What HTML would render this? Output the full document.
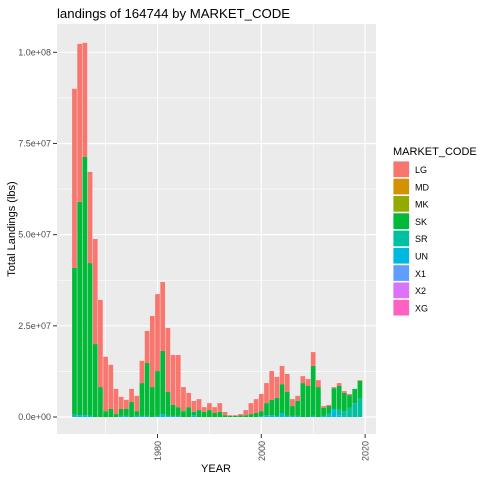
<!DOCTYPE html>
<html><head><meta charset="utf-8"><style>
body{margin:0;background:#fff;}
svg text{font-family:"Liberation Sans",Arial,sans-serif;}
</style></head><body>
<svg id="chart" width="480" height="480" xmlns="http://www.w3.org/2000/svg">
<rect width="480" height="480" fill="#fff"/>
<text x="57" y="18" font-size="13.2" fill="#000">landings of 164744 by MARKET_CODE</text>
<rect x="57" y="24" width="319" height="410" fill="#EBEBEB"/>
<g id="grid"></g>
<g id="bars"></g>
<g id="axes"></g>
<text transform="translate(15,229) rotate(-90)" text-anchor="middle" font-size="11" fill="#000">Total Landings (lbs)</text>
<text x="216" y="472" text-anchor="middle" font-size="11" fill="#000">YEAR</text>
<g id="legend"></g>
</svg>
<script>
const years = [];
for (let y = 1964; y <= 2019; y++) years.push(y);
const lgTotal = [90,102.3,102.6,67.2,48.8,32.1,16.5,14.3,7.7,5.5,4.7,7.7,5.8,15.4,23.6,27.7,33.7,37,24.4,17,17,8.2,6.6,4.4,4.9,2.7,3.8,2.7,3.8,1.4,0.5,0.5,0.8,1.9,3.8,4.9,6.3,9.3,12.6,11,14,11.8,4.9,5.8,11.2,10.4,17.8,10.1,3,3.3,8.2,9.3,7.1,6.3,7.7,10.1];
const skTop = [40.9,59,71.3,42.2,20,8.2,1.6,2.2,0.8,2.2,2.2,4.1,1.6,9.3,14.8,8.2,12.6,18.1,6.9,3.3,2.7,1.6,2.7,1.4,1.9,1.4,1.9,1.1,1.4,0.5,0.3,0.3,0.4,0.5,0.8,1.1,1.6,3.8,4.7,5.2,9,6.9,3,4.4,9.3,8.5,14,8.2,2.5,3,7.9,8.5,6.6,6,7.7,9.9];
const srTop = [0,0,0,0,0,0,0,0,0,0,0,0,0,0,0,0,0,0,0,0,0,0,0,0,0,0,0,0,0,0,0,0,0,0,0,0,0,0,0,0,0,0,0,0,0,0,0,0,0,1.1,2.2,2.0,1.6,2.5,3.8,5.2];
const unVal = [0.6,0.5,0.5,0.4,0,0,0,0,0,0.3,0.3,0,0.3,0.3,0.3,0,0.3,0.8,0.3,0.3,0.3,0,0,0.5,0,0,0,0,0,0,0,0,0,0,0,0,0.2,0.5,0.5,0.3,1.1,0.3,0.3,0.3,0,0,0.3,0,0.3,0.3,2.2,0.5,0.3,0,0,0];
const yTicks = [0,25,50,75,100];
const yTickLabels = ["0.0e+00","2.5e+07","5.0e+07","7.5e+07","1.0e+08"];
const xTicks = [1980,2000,2020];
const legendCodes = ["LG","MD","MK","SK","SR","UN","X1","X2","XG"];
const legendColors = ["#F8766D","#D39200","#93AA00","#00BA38","#00C19F","#00B9E3","#619CFF","#DB72FB","#FF61C3"];

const NS = "http://www.w3.org/2000/svg";
const xS = y => 157.5 + (y - 1980) * 5.19;
const yS = v => 417 - v * 3.647;
function mk(tag, attrs, parent){const e=document.createElementNS(NS,tag);for(const k in attrs)e.setAttribute(k,attrs[k]);parent.appendChild(e);return e;}
const grid=document.getElementById('grid'), bars=document.getElementById('bars'), axes=document.getElementById('axes'), legend=document.getElementById('legend');
for (let i=0;i<yTicks.length-1;i++){const v=(yTicks[i]+yTicks[i+1])/2;const l=mk('line',{x1:57,x2:376,y1:yS(v),y2:yS(v),stroke:'#fff','stroke-width':0.6},grid);

}
for (let v=1970; v<=2010; v+=20){const l=mk('line',{x1:xS(v),x2:xS(v),y1:24,y2:434,stroke:'#fff','stroke-width':0.6},grid);

}
yTicks.forEach((v,i)=>{const l=mk('line',{x1:57,x2:376,y1:yS(v),y2:yS(v),stroke:'#fff','stroke-width':1.2},grid);


const t=mk('line',{x1:53,x2:57,y1:yS(v),y2:yS(v),stroke:'#333','stroke-width':1},axes);


const tx=mk('text',{x:51,y:yS(v)+3,'text-anchor':'end','font-size':9,fill:'#4D4D4D'},axes);tx.textContent=yTickLabels[i];

});
xTicks.forEach(v=>{const l=mk('line',{x1:xS(v),x2:xS(v),y1:24,y2:434,stroke:'#fff','stroke-width':1.2},grid);


const t=mk('line',{x1:xS(v),x2:xS(v),y1:434,y2:438,stroke:'#333','stroke-width':1},axes);


const tx=mk('text',{transform:`translate(${xS(v)+3.5},441) rotate(-90)`,'text-anchor':'end','font-size':9,fill:'#4D4D4D'},axes);tx.textContent=v;

});
const bw=4.7;
years.forEach((yr,i)=>{
  const x=xS(yr)-bw/2;
  const un=unVal[i], sr=srTop[i], sk=skTop[i], tot=lgTotal[i];
  const segs=[[0,un,'#00B9E3','bar-un'],[un,Math.max(un,sr),'#00C19F','bar-sr'],[Math.max(un,sr),Math.max(un,sr,sk),'#00BA38','bar-sk'],[Math.max(un,sr,sk),Math.max(un,sr,sk,tot),'#F8766D','bar-lg']];
  segs.forEach(s=>{if(s[1]-s[0]<=0)return;
    const r=mk('rect',{x:x,width:bw,y:yS(s[1]),height:yS(s[0])-yS(s[1]),fill:s[2]},bars);
    
    });
});
const lt=mk('text',{x:393,y:155,'font-size':11,fill:'#000'},legend);lt.textContent='MARKET_CODE';


legendCodes.forEach((c,i)=>{const y=161+i*17.3;
  const r=mk('rect',{x:393,y:y,width:16.5,height:16.5,fill:legendColors[i],stroke:'#fff','stroke-width':0.8},legend);
  
  
  const t=mk('text',{x:415,y:y+12,'font-size':9,fill:'#000'},legend);t.textContent=c;
  
  });
</script>
</body></html>
